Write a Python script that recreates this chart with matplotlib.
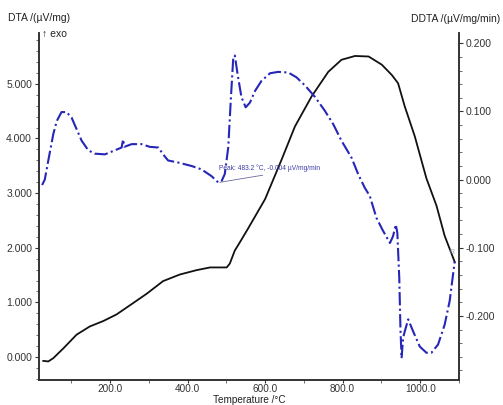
import matplotlib
matplotlib.use('Agg')
import matplotlib.pyplot as plt
from matplotlib.ticker import MultipleLocator, FormatStrFormatter

plt.rcParams['font.family'] = ['Liberation Sans', 'DejaVu Sans']

# DTA signal (left axis)
dta_temp = [28, 41, 54, 80, 114, 148, 183, 217, 252, 295, 337, 380, 423, 458,
            501, 509, 522, 535, 556, 600, 643, 677, 720, 763, 797, 832, 867,
            901, 927, 943, 960, 986, 1016, 1042, 1063, 1089]
dta_val = [-0.07, -0.08, -0.02, 0.16, 0.41, 0.56, 0.66, 0.78, 0.95, 1.16, 1.39,
           1.51, 1.59, 1.64, 1.64, 1.71, 1.95, 2.10, 2.35, 2.89, 3.62, 4.22,
           4.77, 5.22, 5.44, 5.51, 5.50, 5.35, 5.16, 5.01, 4.59, 4.04, 3.27,
           2.77, 2.22, 1.74]

# DDTA signal (right axis)
ddta_temp = [25, 32, 41, 54, 63, 75, 88, 101, 114, 127, 144, 161, 187, 213,
             230, 234, 237, 256, 281, 303, 325, 337, 350, 376, 410, 436, 462,
             477, 483, 488, 496, 505, 512, 518, 522, 529, 539, 550, 561, 574,
             591, 613, 634, 660, 681, 703, 729, 754, 776, 797, 823, 840, 857,
             870, 887, 904, 922, 930, 937, 941, 946, 949, 952, 956, 960, 969,
             982, 999, 1016, 1029, 1046, 1063, 1076, 1089]
ddta_val = [-0.008, 0.000, 0.028, 0.067, 0.086, 0.099, 0.099, 0.091, 0.074,
            0.057, 0.043, 0.038, 0.037, 0.043, 0.047, 0.059, 0.048, 0.052,
            0.052, 0.048, 0.047, 0.037, 0.028, 0.025, 0.020, 0.015, 0.005,
            -0.003, -0.004, -0.002, 0.008, 0.047, 0.121, 0.179, 0.182, 0.155,
            0.121, 0.106, 0.113, 0.130, 0.145, 0.156, 0.158, 0.157, 0.150,
            0.138, 0.121, 0.101, 0.081, 0.057, 0.032, 0.008, -0.012, -0.024,
            -0.056, -0.075, -0.093, -0.083, -0.066, -0.078, -0.144, -0.218,
            -0.262, -0.232, -0.223, -0.205, -0.223, -0.245, -0.254, -0.254,
            -0.242, -0.213, -0.178, -0.120]

peak_temp = 483.2
peak_val = -0.004

fig = plt.figure(figsize=(5.03, 4.05), dpi=100)
ax = fig.add_axes([0.0775, 0.0617, 0.835, 0.8568])
ax2 = ax.twinx()

ax.plot(dta_temp, dta_val, color='#111111', lw=1.3, zorder=3)
ax2.plot(ddta_temp, ddta_val, color='#2626b8', lw=1.5, ls='-.')

ax.set_xlim(17, 1100)
ax.set_ylim(-0.42, 5.93)
ax2.set_ylim(-0.294, 0.215)

ax.xaxis.set_major_locator(MultipleLocator(200))
ax.xaxis.set_minor_locator(MultipleLocator(100))
ax.xaxis.set_major_formatter(FormatStrFormatter('%.1f'))
ax.yaxis.set_major_locator(MultipleLocator(1))
ax.yaxis.set_minor_locator(MultipleLocator(0.2))
ax.yaxis.set_major_formatter(FormatStrFormatter('%.3f'))
ax2.yaxis.set_major_locator(MultipleLocator(0.1))
ax2.yaxis.set_minor_locator(MultipleLocator(0.02))
ax2.yaxis.set_major_formatter(FormatStrFormatter('%.3f'))

for a in (ax, ax2):
    a.spines['top'].set_visible(False)
    for s in a.spines.values():
        s.set_color('#333333')
        s.set_linewidth(1.2)
    a.tick_params(labelsize=7.5, colors='#333333', length=3, width=0.8, pad=2)
    a.tick_params(which='minor', length=2, width=0.6, colors='#555555')
ax.tick_params(axis='x', which='both', length=2, pad=1, labelsize=7.2)

# peak annotation on the DDTA curve
ax2.annotate(f'Peak: {peak_temp:.1f} °C, {peak_val:.3f} µV/mg/min',
             xy=(peak_temp, peak_val), xytext=(481, 0.0105),
             fontsize=4.8, color='#3a3aa8', va='bottom',
             arrowprops=dict(arrowstyle='-', color='#6a6a9a', lw=0.6,
                             shrinkA=0, shrinkB=0,
                             relpos=(0.6, 0.0)))
ax2.text(1081, -0.107, 'R', fontsize=5, color='#a0a8c8', ha='center', va='center')

fig.text(0.016, 0.955, 'DTA /(µV/mg)', fontsize=7.5, color='#222222', va='center')
fig.text(0.083, 0.915, '↑ exo', fontsize=7.5, color='#222222', va='center')
fig.text(0.995, 0.952, 'DDTA /(µV/mg/min)', fontsize=7.5, color='#222222',
         va='center', ha='right')
fig.text(0.495, 0.0, 'Temperature /°C', fontsize=7.2, color='#222222',
         ha='center', va='bottom')

fig.savefig('out.png', dpi=100)
